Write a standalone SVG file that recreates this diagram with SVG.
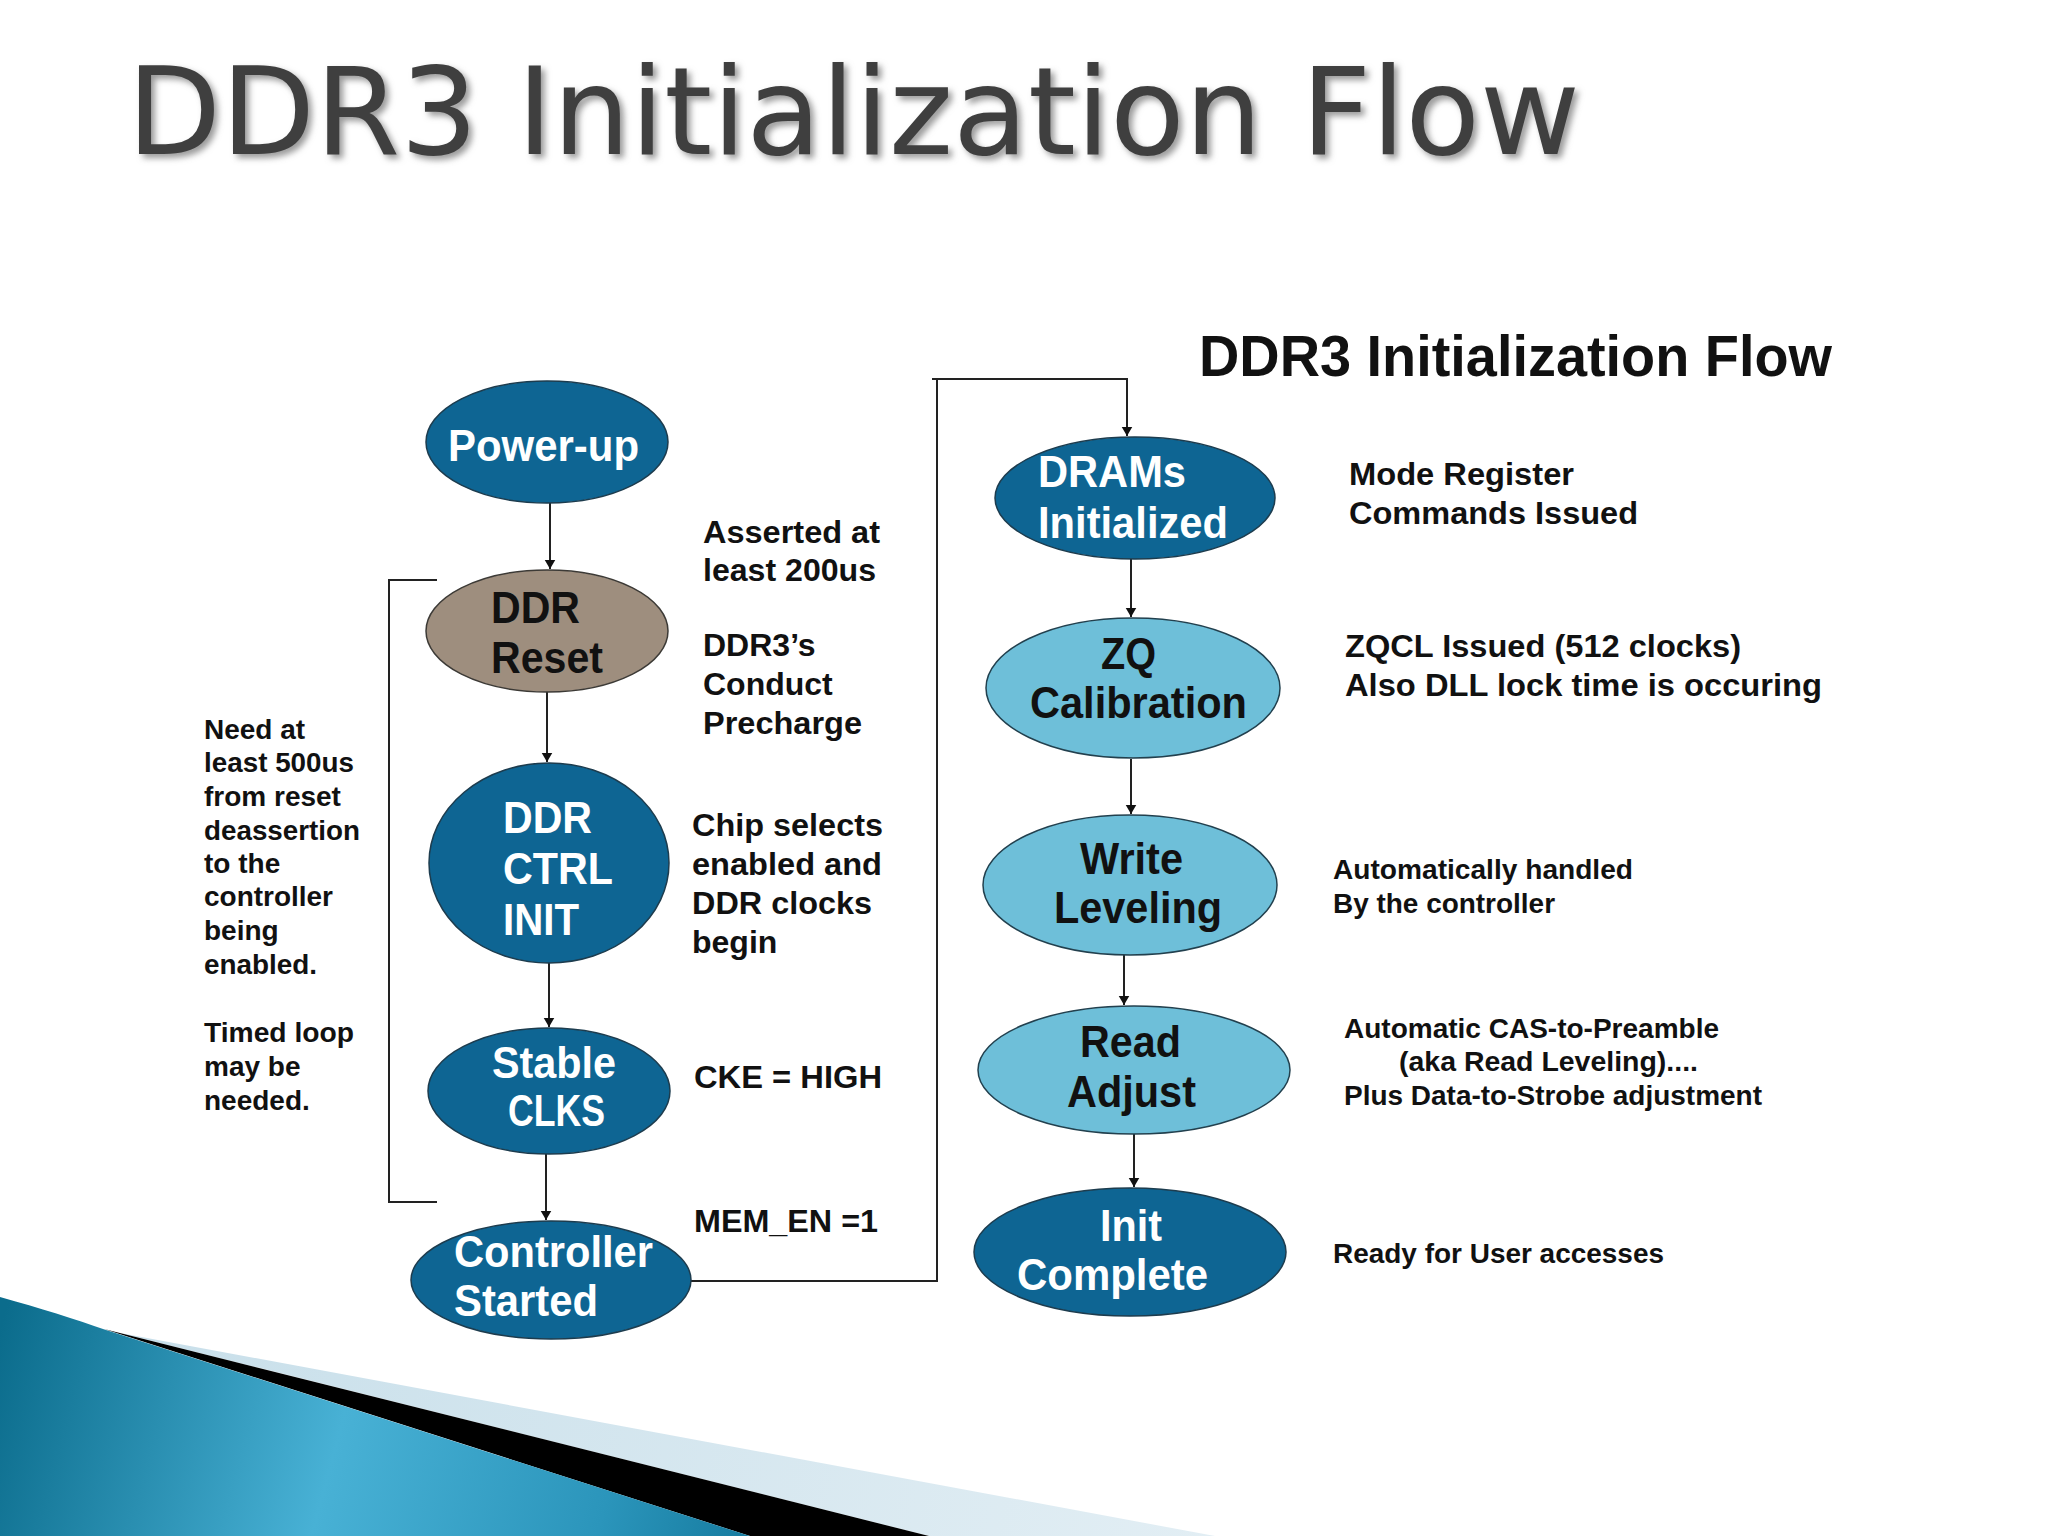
<svg xmlns="http://www.w3.org/2000/svg" width="2048" height="1536" viewBox="0 0 2048 1536">
<defs>
  <marker id="arr" viewBox="0 0 10 10" refX="10" refY="5" markerWidth="7" markerHeight="8" markerUnits="userSpaceOnUse" orient="auto">
  </marker>
  <marker id="ah" viewBox="0 0 12 16" refX="12" refY="8" markerWidth="16" markerHeight="12" markerUnits="userSpaceOnUse" orient="auto">
    <path d="M0,1 L12,8 L0,15 Z" fill="#111"/>
  </marker>
  <filter id="shadow" x="-5%" y="-20%" width="110%" height="150%">
    <feGaussianBlur stdDeviation="3"/>
  </filter>
  <linearGradient id="teal" gradientUnits="userSpaceOnUse" x1="0" y1="1330" x2="760" y2="1536">
    <stop offset="0" stop-color="#0b6c8c"/>
    <stop offset="0.45" stop-color="#48b1d5"/>
    <stop offset="0.8" stop-color="#2b95bb"/>
    <stop offset="1" stop-color="#157a9e"/>
  </linearGradient>
  <linearGradient id="pale" gradientUnits="userSpaceOnUse" x1="120" y1="1336" x2="1215" y2="1536">
    <stop offset="0" stop-color="#c8dfea"/>
    <stop offset="1" stop-color="#e2eef4"/>
  </linearGradient>
  <style>
    .dark { fill: #0e6593; stroke: #1d3c4e; stroke-width: 1.5; }
    .brown { fill: #9e8e7e; stroke: #3c3a36; stroke-width: 1.5; }
    .light { fill: #6ebfd9; stroke: #22404e; stroke-width: 1.5; }
    .nw { font-family: "Liberation Sans", Arial, sans-serif; font-weight: bold; font-size: 44px; fill: #ffffff; }
    .nb { font-family: "Liberation Sans", Arial, sans-serif; font-weight: bold; font-size: 44px; fill: #111111; }
    .ann { font-family: "Liberation Sans", Arial, sans-serif; font-weight: bold; font-size: 32px; fill: #111111; }
    .ann2 { font-family: "Liberation Sans", Arial, sans-serif; font-weight: bold; font-size: 28px; fill: #111111; }
    .conn { fill: none; stroke: #222222; stroke-width: 2; }
  </style>
</defs>

<rect width="2048" height="1536" fill="#ffffff"/>

<!-- bottom-left decoration -->
<g id="decoration">
  <path d="M120,1333 L1215,1536 L929,1536 Z" fill="url(#pale)"/>
  <path d="M104,1329 L929,1536 L750,1536 Z" fill="#000000"/>
  <path d="M0,1297 C40,1308 75,1319 106,1330 L750,1536 L0,1536 Z" fill="url(#teal)"/>
</g>

<!-- titles -->
<g id="title">
  <text x="131" y="158" font-family="DejaVu Sans, sans-serif" font-size="122" fill="#9a9a9a" filter="url(#shadow)" textLength="1453" lengthAdjust="spacingAndGlyphs">DDR3 Initialization Flow</text>
  <text x="127" y="154" font-family="DejaVu Sans, sans-serif" font-size="122" fill="#3f3f3f" textLength="1453" lengthAdjust="spacingAndGlyphs">DDR3 Initialization Flow</text>
</g>
<g id="subtitle">
  <text x="1199" y="376" font-family="Liberation Sans, Arial, sans-serif" font-weight="bold" font-size="58" fill="#111111" textLength="633" lengthAdjust="spacingAndGlyphs">DDR3 Initialization Flow</text>
</g>

<!-- connectors -->
<g id="connectors">
  <line class="conn" x1="550" y1="503" x2="550" y2="569" marker-end="url(#ah)"/>
  <line class="conn" x1="547" y1="692" x2="547" y2="762" marker-end="url(#ah)"/>
  <line class="conn" x1="549" y1="963" x2="549" y2="1027" marker-end="url(#ah)"/>
  <line class="conn" x1="546" y1="1154" x2="546" y2="1220" marker-end="url(#ah)"/>
  <path class="conn" d="M691,1281 L937,1281 L937,379 M932,379 L1127,379 L1127,436" marker-end="url(#ah)"/>
  <line class="conn" x1="1131" y1="559" x2="1131" y2="617" marker-end="url(#ah)"/>
  <line class="conn" x1="1131" y1="759" x2="1131" y2="814" marker-end="url(#ah)"/>
  <line class="conn" x1="1124" y1="955" x2="1124" y2="1005" marker-end="url(#ah)"/>
  <line class="conn" x1="1134" y1="1134" x2="1134" y2="1187" marker-end="url(#ah)"/>
  <path class="conn" d="M437,580 L389,580 L389,1202 L437,1202"/>
</g>

<!-- left column nodes -->
<g id="power-up">
  <ellipse class="dark" cx="547" cy="442" rx="121" ry="61"/>
  <text class="nw" x="448" y="461" textLength="191" lengthAdjust="spacingAndGlyphs">Power-up</text>
</g>
<g id="ddr-reset">
  <ellipse class="brown" cx="547" cy="631" rx="121" ry="61"/>
  <text class="nb" x="491" y="623" textLength="89" lengthAdjust="spacingAndGlyphs">DDR</text>
  <text class="nb" x="491" y="673" textLength="112" lengthAdjust="spacingAndGlyphs">Reset</text>
</g>
<g id="ddr-ctrl-init">
  <ellipse class="dark" cx="549" cy="863" rx="120" ry="100"/>
  <text class="nw" x="503" y="833" textLength="89" lengthAdjust="spacingAndGlyphs">DDR</text>
  <text class="nw" x="503" y="884" textLength="110" lengthAdjust="spacingAndGlyphs">CTRL</text>
  <text class="nw" x="503" y="935" textLength="76" lengthAdjust="spacingAndGlyphs">INIT</text>
</g>
<g id="stable-clks">
  <ellipse class="dark" cx="549" cy="1091" rx="121" ry="63"/>
  <text class="nw" x="492" y="1078" textLength="124" lengthAdjust="spacingAndGlyphs">Stable</text>
  <text class="nw" x="508" y="1126" textLength="97" lengthAdjust="spacingAndGlyphs">CLKS</text>
</g>
<g id="controller-started">
  <ellipse class="dark" cx="551" cy="1280" rx="140" ry="59"/>
  <text class="nw" x="454" y="1267" textLength="199" lengthAdjust="spacingAndGlyphs">Controller</text>
  <text class="nw" x="454" y="1316" textLength="144" lengthAdjust="spacingAndGlyphs">Started</text>
</g>

<!-- right column nodes -->
<g id="drams-initialized">
  <ellipse class="dark" cx="1135" cy="498" rx="140" ry="61"/>
  <text class="nw" x="1038" y="487" textLength="148" lengthAdjust="spacingAndGlyphs">DRAMs</text>
  <text class="nw" x="1038" y="538" textLength="190" lengthAdjust="spacingAndGlyphs">Initialized</text>
</g>
<g id="zq-calibration">
  <ellipse class="light" cx="1133" cy="688" rx="147" ry="70"/>
  <text class="nb" x="1101" y="669" textLength="55" lengthAdjust="spacingAndGlyphs">ZQ</text>
  <text class="nb" x="1030" y="718" textLength="217" lengthAdjust="spacingAndGlyphs">Calibration</text>
</g>
<g id="write-leveling">
  <ellipse class="light" cx="1130" cy="885" rx="147" ry="70"/>
  <text class="nb" x="1080" y="874" textLength="103" lengthAdjust="spacingAndGlyphs">Write</text>
  <text class="nb" x="1054" y="923" textLength="168" lengthAdjust="spacingAndGlyphs">Leveling</text>
</g>
<g id="read-adjust">
  <ellipse class="light" cx="1134" cy="1070" rx="156" ry="64"/>
  <text class="nb" x="1080" y="1057" textLength="101" lengthAdjust="spacingAndGlyphs">Read</text>
  <text class="nb" x="1067" y="1107" textLength="129" lengthAdjust="spacingAndGlyphs">Adjust</text>
</g>
<g id="init-complete">
  <ellipse class="dark" cx="1130" cy="1252" rx="156" ry="64"/>
  <text class="nw" x="1100" y="1241" textLength="62" lengthAdjust="spacingAndGlyphs">Init</text>
  <text class="nw" x="1017" y="1290" textLength="191" lengthAdjust="spacingAndGlyphs">Complete</text>
</g>

<!-- annotations -->
<g id="annotations">
  <text class="ann" x="703" y="543" textLength="177" lengthAdjust="spacingAndGlyphs">Asserted at</text>
  <text class="ann" x="703" y="581" textLength="173" lengthAdjust="spacingAndGlyphs">least 200us</text>
  <text class="ann" x="703" y="656">DDR3’s</text>
  <text class="ann" x="703" y="695">Conduct</text>
  <text class="ann" x="703" y="734" textLength="159" lengthAdjust="spacingAndGlyphs">Precharge</text>
  <text class="ann" x="692" y="836" textLength="191" lengthAdjust="spacingAndGlyphs">Chip selects</text>
  <text class="ann" x="692" y="875" textLength="190" lengthAdjust="spacingAndGlyphs">enabled and</text>
  <text class="ann" x="692" y="914" textLength="180" lengthAdjust="spacingAndGlyphs">DDR clocks</text>
  <text class="ann" x="692" y="953">begin</text>
  <text class="ann" x="694" y="1088" textLength="188" lengthAdjust="spacingAndGlyphs">CKE = HIGH</text>
  <text class="ann" x="694" y="1232" textLength="184" lengthAdjust="spacingAndGlyphs">MEM_EN =1</text>

  <text class="ann2" x="204" y="739">Need at</text>
  <text class="ann2" x="204" y="772" textLength="150" lengthAdjust="spacingAndGlyphs">least 500us</text>
  <text class="ann2" x="204" y="806">from reset</text>
  <text class="ann2" x="204" y="840" textLength="156" lengthAdjust="spacingAndGlyphs">deassertion</text>
  <text class="ann2" x="204" y="873">to the</text>
  <text class="ann2" x="204" y="906" textLength="129" lengthAdjust="spacingAndGlyphs">controller</text>
  <text class="ann2" x="204" y="940">being</text>
  <text class="ann2" x="204" y="974" textLength="113" lengthAdjust="spacingAndGlyphs">enabled.</text>
  <text class="ann2" x="204" y="1042" textLength="150" lengthAdjust="spacingAndGlyphs">Timed loop</text>
  <text class="ann2" x="204" y="1076">may be</text>
  <text class="ann2" x="204" y="1110">needed.</text>

  <text class="ann" x="1349" y="485" textLength="225" lengthAdjust="spacingAndGlyphs">Mode Register</text>
  <text class="ann" x="1349" y="524" textLength="289" lengthAdjust="spacingAndGlyphs">Commands Issued</text>
  <text class="ann" x="1345" y="657" textLength="396" lengthAdjust="spacingAndGlyphs">ZQCL Issued (512 clocks)</text>
  <text class="ann" x="1345" y="696" textLength="477" lengthAdjust="spacingAndGlyphs">Also DLL lock time is occuring</text>
  <text class="ann2" x="1333" y="879" textLength="300" lengthAdjust="spacingAndGlyphs">Automatically handled</text>
  <text class="ann2" x="1333" y="913" textLength="222" lengthAdjust="spacingAndGlyphs">By the controller</text>
  <text class="ann2" x="1344" y="1038" textLength="375" lengthAdjust="spacingAndGlyphs">Automatic CAS-to-Preamble</text>
  <text class="ann2" x="1399" y="1071" textLength="299" lengthAdjust="spacingAndGlyphs">(aka Read Leveling)....</text>
  <text class="ann2" x="1344" y="1105" textLength="418" lengthAdjust="spacingAndGlyphs">Plus Data-to-Strobe adjustment</text>
  <text class="ann2" x="1333" y="1263" textLength="331" lengthAdjust="spacingAndGlyphs">Ready for User accesses</text>
</g>
</svg>
